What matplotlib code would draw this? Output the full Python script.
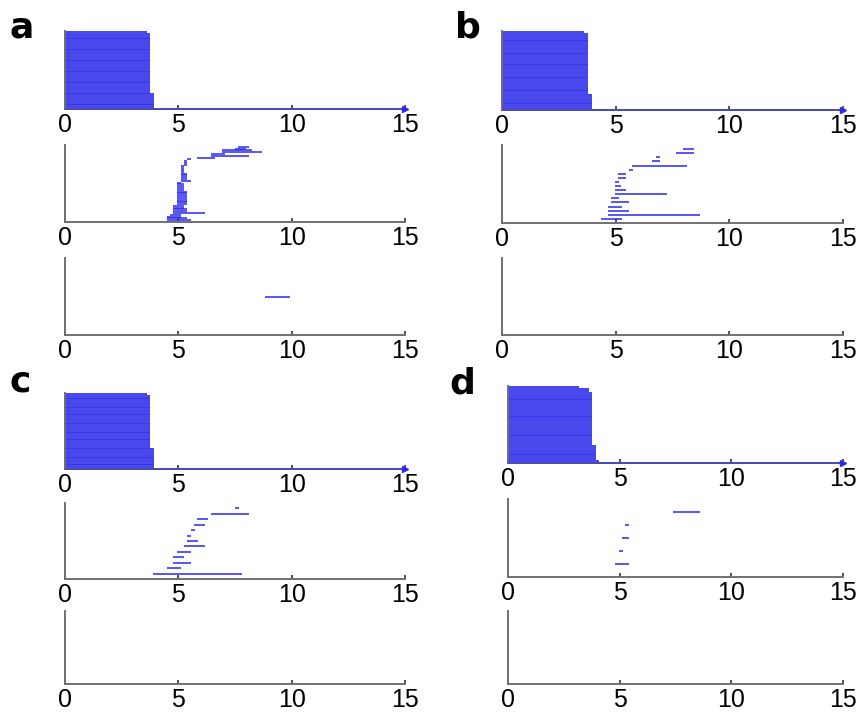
import matplotlib
matplotlib.use("Agg")
import matplotlib.pyplot as plt

W, H = 862, 712

# ---------------- data ----------------
x_ticks = [0, 5, 10, 15]
panel_labels = ["a", "b", "c", "d"]

# top panels: end time of each row (start at 0), listed top -> bottom
top_ends_a = [3.60] + [3.75] * 33 + [3.91] * 8
top_ends_b = [3.62] + [3.78] * 33 + [3.94] * 8
top_ends_c = [3.60] + [3.75] * 30 + [3.91] * 11
top_ends_d = [3.19, 3.61, 3.61] + [3.77] * 28 + [3.93] * 8 + [4.08]
baseline_end = 15

# middle panels: (start, end) of each row, listed top -> bottom
mid_a = [(7.63, 8.10), (7.50, 7.97), (6.91, 8.25), (6.91, 8.69), (6.43, 7.04),
         (6.43, 8.10), (5.84, 6.62), (5.39, 5.54), (5.23, 5.39), (5.23, 5.39),
         (5.23, 5.39), (5.10, 5.23), (5.10, 5.23), (5.10, 5.23), (5.10, 5.23),
         (5.10, 5.39), (5.10, 5.39), (5.10, 5.39), (5.10, 5.39), (5.10, 5.54),
         (4.94, 5.10), (4.94, 5.23), (4.94, 5.23), (4.94, 5.23), (4.94, 5.23),
         (4.94, 5.39), (4.94, 5.39), (4.94, 5.39), (4.94, 5.39), (4.94, 5.39),
         (4.94, 5.39), (4.94, 5.39), (4.94, 5.39), (4.78, 5.25), (4.78, 5.25),
         (4.78, 5.39), (4.78, 5.39), (4.78, 6.16), (4.63, 5.10), (4.50, 5.10),
         (4.50, 5.39), (4.50, 5.54)]
mid_b = [(7.98, 8.43), (7.66, 8.43), (6.78, 6.94), (6.61, 6.94), (5.73, 8.13),
         (5.57, 5.75), (5.12, 5.44), (5.12, 5.44), (4.97, 5.15), (4.97, 5.24),
         (4.97, 5.44), (4.97, 7.25), (4.81, 5.15), (4.81, 5.59), (4.66, 5.28),
         (4.66, 5.59), (4.66, 8.72), (4.37, 5.28)]
mid_c = [(7.50, 7.66), (6.44, 8.10), (5.84, 6.32), (5.69, 6.16), (5.54, 5.72),
         (5.38, 5.56), (5.38, 5.85), (5.23, 6.16), (4.94, 5.56), (4.78, 5.25),
         (4.78, 5.56), (4.50, 5.12), (3.90, 7.81)]
mid_d = [(7.38, 8.58), (5.24, 5.42), (5.12, 5.42), (4.96, 5.14), (4.81, 5.42)]

# bottom panels
bot_a = [(8.84, 9.91)]
bot_b = []
bot_c = []
bot_d = []

# ---------------- style ----------------
BLUE = "#2a2aee"
BLOCK = "#3535ea"
SPINE = "#707070"
plt.rcParams["font.family"] = ["Liberation Sans", "DejaVu Sans"]

fig = plt.figure(figsize=(W / 100, H / 100), dpi=100)


def add_ax(left, top, right, bottom):
    ax = fig.add_axes([left / W, 1 - bottom / H, (right - left) / W, (bottom - top) / H])
    ax.set_xlim(0, 15)
    ax.set_xticks(x_ticks)
    ax.set_xticklabels([str(t) for t in x_ticks])
    ax.set_yticks([])
    for s in ("top", "right"):
        ax.spines[s].set_visible(False)
    for s in ("left", "bottom"):
        ax.spines[s].set_color(SPINE)
        ax.spines[s].set_linewidth(1.4)
    ax.tick_params(axis="x", direction="in", length=3, width=1.2, color="#333333",
                   labelsize=18, pad=3, labelcolor="black")
    return ax


def draw_top(ax, ends):
    n = len(ends)
    for i, e in enumerate(ends):
        ax.plot([0, e], [n - i, n - i], color=BLOCK, lw=1.3, solid_capstyle="butt")
    ax.plot([0, baseline_end], [0, 0], color=BLUE, lw=1.3, alpha=0.6, zorder=3,
            clip_on=False, solid_capstyle="butt")
    ax.plot([baseline_end], [0], marker=">", ms=4, color=BLUE, mec=BLUE,
            zorder=4, clip_on=False)
    ax.set_ylim(0, n + 0.6)


def draw_rows(ax, segs, empty_n=1):
    n = len(segs)
    for i, (s, e) in enumerate(segs):
        ax.plot([s, e], [n - i, n - i], color=BLUE, lw=1.3, alpha=0.85,
                solid_capstyle="butt")
    ax.set_ylim(0, (n if n else empty_n) + 1)


# panel geometry in pixels: (left, right, [(top, bottom) x3])
geo = {
    "a": (65, 405, [(31, 109), (145, 222), (258, 335)]),
    "b": (502, 843, [(31, 110), (145, 223), (258, 335)]),
    "c": (65, 405, [(393, 469), (503, 579), (611, 684)]),
    "d": (508, 843, [(386, 463), (499, 577), (611, 684)]),
}
tops = {"a": top_ends_a, "b": top_ends_b, "c": top_ends_c, "d": top_ends_d}
mids = {"a": mid_a, "b": mid_b, "c": mid_c, "d": mid_d}
bots = {"a": bot_a, "b": bot_b, "c": bot_c, "d": bot_d}

for key in panel_labels:
    l, r, rows = geo[key]
    ax1 = add_ax(l, rows[0][0], r, rows[0][1])
    draw_top(ax1, tops[key])
    ax2 = add_ax(l, rows[1][0], r, rows[1][1])
    draw_rows(ax2, mids[key])
    ax3 = add_ax(l, rows[2][0], r, rows[2][1])
    draw_rows(ax3, bots[key])

letter_pos = {"a": (10, 37), "b": (455, 37), "c": (10, 392), "d": (449, 394)}
for key in panel_labels:
    x, y = letter_pos[key]
    fig.text(x / W, 1 - y / H, key, fontsize=26, fontweight="bold",
             family="DejaVu Sans", ha="left", va="baseline")

fig.savefig("out.png", dpi=100)
